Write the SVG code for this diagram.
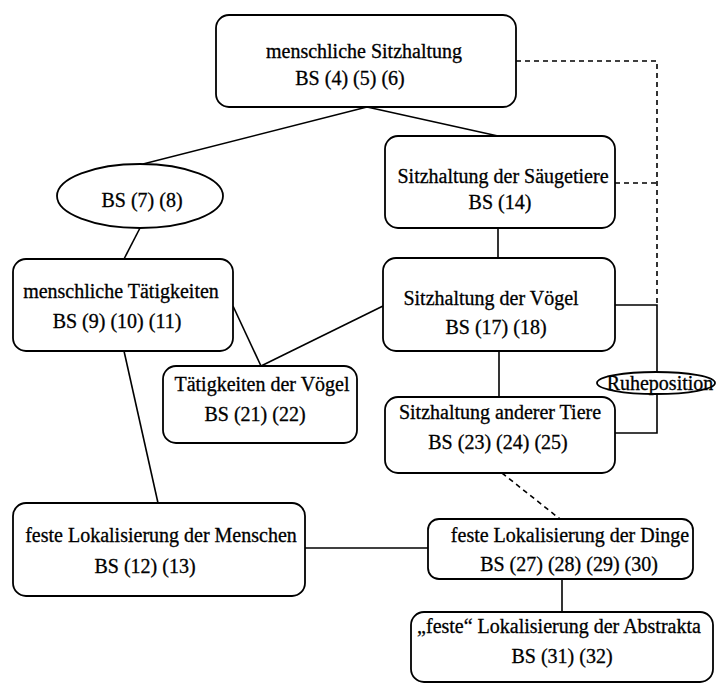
<svg xmlns="http://www.w3.org/2000/svg" width="717" height="684" viewBox="0 0 717 684">
<style>
.box{fill:#fff;stroke:#000;stroke-width:1.8}
.ln{fill:none;stroke:#000;stroke-width:1.6}
.dash{fill:none;stroke:#000;stroke-width:1.6;stroke-dasharray:5 4}
text{font-family:"Liberation Serif","Times New Roman",serif;font-size:20px;fill:#000;stroke:#000;stroke-width:0.3;text-anchor:middle}
</style>
<rect width="717" height="684" fill="#fff"/>
<g id="connectors">
<line class="ln" x1="367" y1="107" x2="143" y2="164"/>
<line class="ln" x1="367" y1="107" x2="498" y2="136"/>
<line class="ln" x1="140" y1="228" x2="124" y2="259"/>
<line class="ln" x1="233" y1="306" x2="261" y2="366"/>
<line class="ln" x1="261" y1="366" x2="383" y2="306"/>
<line class="ln" x1="124" y1="351" x2="158" y2="503"/>
<line class="ln" x1="498" y1="228" x2="498" y2="258"/>
<line class="ln" x1="499" y1="351" x2="499" y2="397"/>
<polyline class="ln" points="615,305 657,305 657,372"/>
<polyline class="ln" points="657,394 657,433 615,433"/>
<polyline class="dash" points="516,61 657,61 657,305"/>
<line class="dash" x1="615" y1="183" x2="657" y2="183"/>
<line class="dash" x1="502" y1="473" x2="560" y2="519"/>
<line class="ln" x1="305" y1="548" x2="428" y2="548"/>
<line class="ln" x1="562" y1="579" x2="562" y2="612"/>
</g>
<g id="n-menschliche-sitzhaltung">
<rect class="box" x="216" y="15" width="300" height="92" rx="13"/>
<text x="364" y="58">menschliche Sitzhaltung</text>
<text x="350" y="85">BS (4) (5) (6)</text>
</g>
<g id="n-bs78">
<ellipse class="box" cx="140" cy="196" rx="83" ry="32"/>
<text x="142" y="207">BS (7) (8)</text>
</g>
<g id="n-saeugetiere">
<rect class="box" x="385" y="136" width="230" height="92" rx="13"/>
<text x="503" y="183">Sitzhaltung der Säugetiere</text>
<text x="500" y="209">BS (14)</text>
</g>
<g id="n-menschliche-taetigkeiten">
<rect class="box" x="13" y="259" width="220" height="92" rx="13"/>
<text x="121" y="298">menschliche Tätigkeiten</text>
<text x="117" y="328">BS (9) (10) (11)</text>
</g>
<g id="n-voegel">
<rect class="box" x="383" y="258" width="232" height="93" rx="13"/>
<text x="491" y="305">Sitzhaltung der Vögel</text>
<text x="496" y="334">BS (17) (18)</text>
</g>
<g id="n-taetigkeiten-voegel">
<rect class="box" x="163" y="366" width="194" height="77" rx="13"/>
<text x="262" y="391">Tätigkeiten der Vögel</text>
<text x="255" y="421">BS (21) (22)</text>
</g>
<g id="n-ruheposition">
<ellipse class="box" cx="656" cy="383" rx="59" ry="11"/>
<text x="660" y="390">Ruheposition</text>
</g>
<g id="n-andere-tiere">
<rect class="box" x="385" y="397" width="230" height="76" rx="13"/>
<text x="500" y="419">Sitzhaltung anderer Tiere</text>
<text x="498" y="449">BS (23) (24) (25)</text>
</g>
<g id="n-lok-menschen">
<rect class="box" x="13" y="503" width="292" height="93" rx="13"/>
<text x="161" y="542">feste Lokalisierung der Menschen</text>
<text x="145" y="573">BS (12) (13)</text>
</g>
<g id="n-lok-dinge">
<rect class="box" x="428" y="519" width="265" height="60" rx="11"/>
<text x="570" y="542">feste Lokalisierung der Dinge</text>
<text x="569" y="571">BS (27) (28) (29) (30)</text>
</g>
<g id="n-lok-abstrakta">
<rect class="box" x="411" y="612" width="302" height="70" rx="13"/>
<text x="559" y="633">„feste“ Lokalisierung der Abstrakta</text>
<text x="562" y="663">BS (31) (32)</text>
</g>
</svg>
